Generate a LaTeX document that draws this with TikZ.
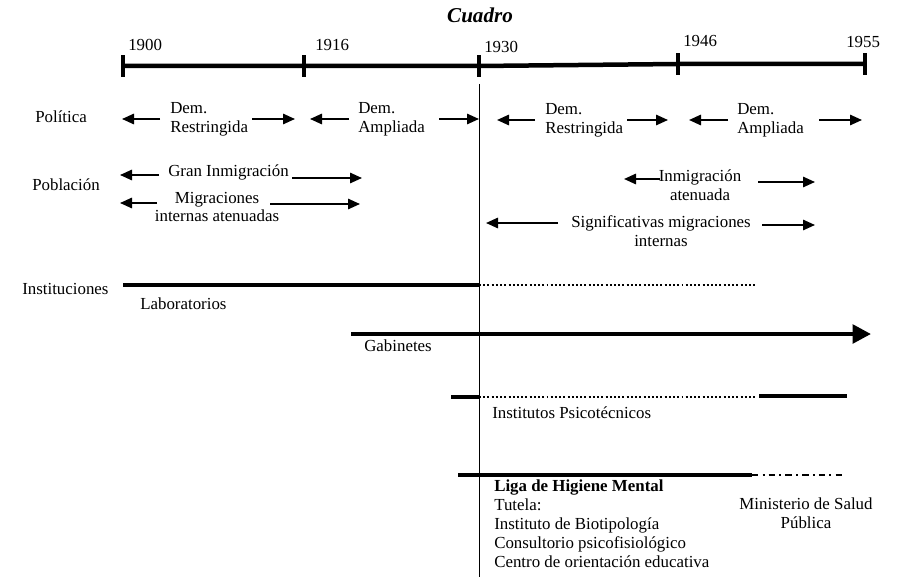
\documentclass[tikz,border=0pt]{standalone}
\usepackage{fontspec}
\setmainfont{Liberation Serif}
\usetikzlibrary{arrows.meta}
\def\tickH{22}
\def\splitX{479}
\newcommand{\twoway}[7]{%
% #1 = name, #2 = left y, #3 = right y, #4 = left tip, #5 = left tail, #6 = right tail, #7 = right tip
\coordinate (#1-lt) at (#4,#2);
\coordinate (#1-ls) at (#5,#2);
\coordinate (#1-rs) at (#6,#3);
\coordinate (#1-rt) at (#7,#3);
\draw[arr] (#1-ls) -- (#1-lt);
\draw[arr] (#1-rs) -- (#1-rt);
}

\begin{document}
\begin{tikzpicture}[
    x=0.025cm, y=-0.025cm,
    every node/.style={inner sep=0pt, font=\fontsize{12}{13.5}\selectfont},
    arr/.style={line width=1.3pt, -{Triangle[length=3mm,width=2.6mm]}},
    yearmark/.style={fill, minimum width=2.6pt, minimum height=\tickH*0.025cm},
    period/.style={line width=2.4pt},
    gap/.style={line width=2pt, dash pattern=on 1.4pt off 1.6pt},
    later/.style={line width=1.6pt, dash pattern=on 4.5pt off 3pt on 1.4pt off 3pt}
]
\useasboundingbox (0,0) rectangle (924,577);

% title and time axis
\node (title) at (480,15) {\fontsize{15}{17}\selectfont\bfseries\itshape Cuadro};
\node[yearmark] (t1900) at (123,66) {};
\node[yearmark] (t1916) at (304,66) {};
\node[yearmark] (t1930) at (479,66) {};
\node[yearmark] (t1946) at (678,64) {};
\node[yearmark] (t1955) at (865,64) {};
\draw[line width=3.2pt] (t1900.center) -- (t1916.center) -- (t1930.center) -- (t1946.center) -- (t1955.center);
\node[anchor=west] (y1900) at (128,45) {1900};
\node[anchor=west] (y1916) at (315,45) {1916};
\node[anchor=west] (y1930) at (484,47) {1930};
\node[anchor=west] (y1946) at (683,41) {1946};
\node[anchor=west] (y1955) at (846,42) {1955};

% 1930 divide
\coordinate (cut-top) at (\splitX,84);
\coordinate (cut-bot) at (\splitX,577);
\draw[line width=0.7pt] (cut-top) -- (cut-bot);

% row labels
\node[anchor=west] (pol) at (35,117) {Política};
\node[anchor=west] (pob) at (32,185) {Población};
\node[anchor=west] (inst) at (22,289) {Instituciones};

% Politica
\node[anchor=west, align=left] (dr1) at (170,119) {Dem.\\Restringida};
\node[anchor=west, align=left] (da1) at (358,119) {Dem.\\Ampliada};
\node[anchor=west, align=left] (dr2) at (545,120) {Dem.\\Restringida};
\node[anchor=west, align=left] (da2) at (737,120) {Dem.\\Ampliada};
\twoway{dr1}{119}{119}{122}{160}{252}{295}
\twoway{da1}{119}{119}{310}{349}{439}{479}
\twoway{dr2}{120}{120}{497}{535}{627}{668}
\twoway{da2}{120}{120}{689}{728}{819}{862}

% Poblacion
\node[anchor=west] (gran) at (168,172) {Gran Inmigración};
\node[align=center] (migint) at (217,207) {Migraciones\\internas atenuadas};
\node[align=center] (inmat) at (700,185) {Inmigración\\atenuada};
\node[align=center] (sig) at (661,231) {Significativas migraciones\\internas};
\twoway{gran}{175}{178}{120}{159}{292}{362}
\twoway{migint}{203}{204}{120}{157}{270}{360}
\twoway{inmat}{179}{182}{624}{660}{758}{815}
\twoway{sig}{223}{225}{486}{558}{762}{815}

% Instituciones
\coordinate (lab-a) at (123,285);
\coordinate (lab-m) at (\splitX,285);
\coordinate (lab-b) at (757,285);
\draw[period] (lab-a) -- (lab-m);
\draw[gap] (lab-m) -- (lab-b);
\node[anchor=west] (lab) at (140,304) {Laboratorios};

\coordinate (gab-a) at (351,334);
\coordinate (gab-b) at (871,334);
\draw[line width=3pt, -{Triangle[length=4.6mm,width=4.6mm]}] (gab-a) -- (gab-b);
\node[anchor=west] (gab) at (364,346) {Gabinetes};

\coordinate (ips-a) at (451,397);
\coordinate (ips-m) at (\splitX,397);
\coordinate (ips-b) at (756,397);
\coordinate (ips-c) at (759,396);
\coordinate (ips-d) at (847,396);
\draw[period] (ips-a) -- (ips-m);
\draw[gap] (ips-m) -- (ips-b);
\draw[period] (ips-c) -- (ips-d);
\node[anchor=west] (ips) at (492,413) {Institutos Psicotécnicos};

\coordinate (liga-a) at (458,475);
\coordinate (liga-b) at (752,475);
\coordinate (liga-c) at (845,475);
\draw[period] (liga-a) -- (liga-b);
\draw[later] (liga-b) -- (liga-c);
\node[anchor=north west, align=left] (liga) at (494,480) {\textbf{Liga de Higiene Mental}\\Tutela:\\Instituto de Biotipología\\Consultorio psicofisiológico\\Centro de orientación educativa};
\node[align=center] (msp) at (806,513) {Ministerio de Salud\\Pública};
\end{tikzpicture}
\end{document}
